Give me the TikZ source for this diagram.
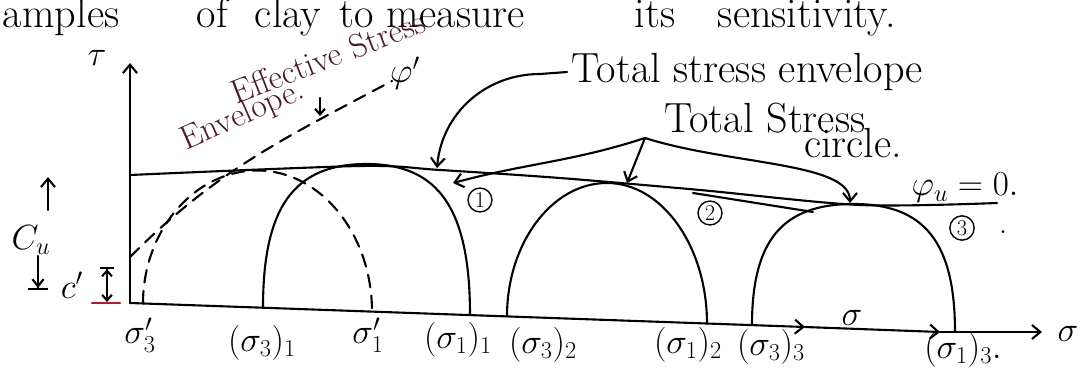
\documentclass[tikz,border=0pt]{standalone}
\usetikzlibrary{arrows.meta, positioning, calc}

\definecolor{redink}{RGB}{170,30,50}
\definecolor{brownink}{RGB}{75,25,40}

\tikzset{
  ink/.style={line width=1.5pt, line cap=round},
  tip/.style={-{Straight Barb[length=6pt, width=10pt]}},
  smalltip/.style={-{Straight Barb[length=4pt, width=7pt]}},
  bartip/.style={-{Straight Barb[length=5pt, width=8pt]Bar[width=14pt]}},
  cpdim/.style={{Straight Barb[length=4pt, width=7pt]}-{Straight Barb[length=4pt, width=7pt]Bar[width=10pt]}},
  effdash/.style={dash pattern=on 9pt off 6pt},
  hand/.style={font=\fontsize{30}{34}\selectfont},
  lab/.style={font=\fontsize{24}{28}\selectfont},
  headline/.style={font=\fontsize{30}{34}\selectfont, anchor=base west},
  num/.style={draw, circle, line width=1pt, inner sep=1.5pt, font=\fontsize{16}{18}\selectfont},
}

\begin{document}
\begin{tikzpicture}[x=0.025cm, y=0.025cm]
    \useasboundingbox (0,0) rectangle (1080,377);

    % Heading words (cut off at the top)
    \node[headline] (w1) at (-2,350) {amples};
    \node[headline] (w2) at (192,350) {of};
    \node[headline] (w3) at (250,350) {clay};
    \node[headline] (w4) at (335,350) {to};
    \node[headline] (w5) at (382,350) {measure};
    \node[headline] (w6) at (630,350) {its};
    \node[headline] (w7) at (713,350) {sensitivity.};

    % Axes
    \coordinate (O) at (130,74);
    \coordinate (tautop) at (130,314);
    \draw[ink, tip] (O) -- (tautop);
    \node[hand] (tau) at (97,319) {$\tau$};
    \coordinate (sx1) at (805,50);
    \coordinate (sx2) at (940,45);
    \coordinate (sx3) at (1042,45);
    \draw[ink, tip] (O) -- (sx1);
    \draw[ink, tip] (sx1) -- (sx2);
    \draw[ink, tip] (sx2) -- (sx3);
    \node[lab] (sig) at (1068,43) {$\sigma$};
    \node[lab] (sigmid) at (852,59) {$\sigma$};

    % Total stress envelope, phi_u = 0
    \draw[ink] plot[smooth, tension=0.5] coordinates {(130,202) (360,211) (440,207) (560,199) (700,187) (860,172) (997,174)};
    \draw[ink] (693,184) -- (813,165);
    \node[lab] (phiu) at (965,189) {$\varphi_u = 0.$};

    % Effective stress envelope
    \draw[ink, effdash] (130,120) to[out=45, in=208] (392,296);
    \node[lab] (phip) at (405,304) {$\varphi'$};

    % Effective stress circle (dashed)
    \draw[ink, effdash] (143,73.5) .. controls (143,146.5) and (194.5,206.5) .. (257.5,206.5)
        .. controls (320.5,206.5) and (372,143) .. (372,65.4);
    % Total stress circles 1, 2, 3
    \draw[ink] (263,69.3) .. controls (263,169.9) and (294,213) .. (366.5,213)
        .. controls (439,213) and (470,167.7) .. (470,61.9);
    \draw[ink] (507,60.6) .. controls (507,134) and (552,194) .. (607,194)
        .. controls (662,194) and (707,130.8) .. (707,53.5);
    \draw[ink] (752,51.9) .. controls (752,136.7) and (782.5,173) .. (853.5,173)
        .. controls (924.5,173) and (955,134.6) .. (955,45);
    \node[num] (n1) at (480,177) {1};
    \node[num] (n2) at (710,164) {2};
    \node[num] (n3) at (962,149) {3};
    \node[lab] (n3dot) at (1003,145) {.};

    % Labels on the sigma axis
    \node[lab] (s3p) at (140,42) {$\sigma_3'$};
    \node[lab] (s31) at (262,34) {$(\sigma_3)_1$};
    \node[lab] (s1p) at (368,42) {$\sigma_1'$};
    \node[lab] (s11) at (458,37) {$(\sigma_1)_1$};
    \node[lab] (s32) at (543,32) {$(\sigma_3)_2$};
    \node[lab] (s12) at (688,32) {$(\sigma_1)_2$};
    \node[lab] (s33) at (771,30) {$(\sigma_3)_3$};
    \node[lab] (s13) at (963,27) {$(\sigma_1)_3.$};

    % Cu and c' marks
    \node[lab] (cu) at (31,137) {$C_u$};
    \coordinate (cuup) at (48,167);
    \coordinate (cutop) at (48,200);
    \coordinate (cudn) at (38,121);
    \coordinate (cubot) at (38,87);
    \draw[ink, tip] (cuup) -- (cutop);
    \draw[ink, bartip] (cudn) -- (cubot);
    \node[lab] (cp) at (72,92) {$c'$};
    \coordinate (cplo) at (107,75);
    \coordinate (cphi) at (107,110);
    \draw[ink, cpdim] (cplo) -- (cphi);
    \draw[ink, redink] (92,74) -- (120,74);

    % Leader to the total stress envelope
    \node[hand, anchor=west] (envtxt) at (567,305) {Total stress envelope};
    \coordinate (envtip) at (437,209);
    \draw[ink, tip] (envtxt.west) -- ++(-27,-2) to[out=180, in=85] (envtip);

    % Leaders to the total stress circles
    \node[hand] (tsc) at (765,259) {Total Stress};
    \node[hand] (tsccirc) at (853,234) {circle.};
    \coordinate (fork) at (645,239);
    \coordinate (c1tip) at (453,194);
    \coordinate (c2tip) at (627,194);
    \coordinate (c3tip) at (850,174);
    \draw[ink, tip] (fork) to[out=198, in=15] (c1tip);
    \draw[ink, tip] (fork) -- (c2tip);
    \draw[ink, tip] (fork) .. controls (730,212) and (850,215) .. (c3tip);

    % Effective stress envelope label
    \node[lab, rotate=21, text=brownink] (efftxt) at (328,320) {Effective Stress};
    \node[lab, rotate=24, text=brownink] (effenv) at (243,261) {Envelope.};
    \coordinate (effdot) at (320,279);
    \coordinate (efftip) at (320,261);
    \draw[ink, smalltip] (effdot) -- (efftip);
\end{tikzpicture}
\end{document}
